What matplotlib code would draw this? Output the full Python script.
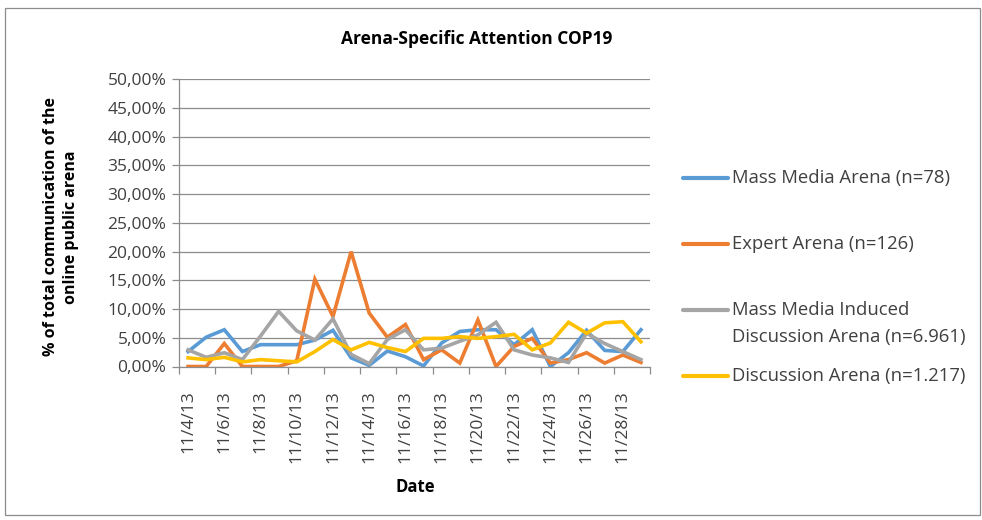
import numpy as np
import matplotlib.pyplot as plt
from matplotlib.lines import Line2D
from matplotlib.patches import Rectangle

plt.rcParams['font.family'] = ['Open Sans', 'DejaVu Sans']

# Daily share of each arena (%), 4-29 Nov 2013
dates = ['11/4/13', '11/5/13', '11/6/13', '11/7/13', '11/8/13', '11/9/13',
         '11/10/13', '11/11/13', '11/12/13', '11/13/13', '11/14/13', '11/15/13',
         '11/16/13', '11/17/13', '11/18/13', '11/19/13', '11/20/13', '11/21/13',
         '11/22/13', '11/23/13', '11/24/13', '11/25/13', '11/26/13', '11/27/13',
         '11/28/13', '11/29/13']
mass_media = [2.6, 5.1, 6.4, 2.6, 3.8, 3.8, 3.8, 4.6, 6.3, 1.5, 0.2, 2.7, 1.7,
              0.1, 4.1, 6.1, 6.4, 6.4, 3.8, 6.4, 0.0, 2.4, 6.3, 2.8, 2.6, 6.4]
expert = [0.0, 0.0, 4.0, 0.0, 0.0, 0.0, 1.0, 15.2, 8.7, 20.0, 9.3, 5.1, 7.3,
          1.2, 2.9, 0.6, 8.1, 0.0, 3.5, 4.9, 0.6, 1.2, 2.4, 0.6, 2.0, 0.7]
induced = [2.9, 1.6, 2.4, 1.2, 5.3, 9.6, 6.2, 4.6, 8.3, 2.1, 0.5, 4.7, 6.4,
           2.9, 3.2, 4.4, 5.5, 7.7, 2.9, 2.0, 1.5, 0.7, 5.8, 4.0, 2.6, 1.2]
discussion = [1.5, 1.2, 1.6, 0.8, 1.2, 1.0, 0.8, 2.6, 4.7, 2.9, 4.2, 3.3, 2.6,
              4.9, 4.9, 5.2, 4.9, 5.2, 5.6, 2.9, 4.1, 7.7, 5.8, 7.6, 7.8, 4.3]

series = [
    ('Mass Media Arena (n=78)', mass_media, '#5B9BD5'),
    ('Expert Arena (n=126)', expert, '#ED7D31'),
    ('Mass Media Induced\nDiscussion Arena (n=6.961)', induced, '#A5A5A5'),
    ('Discussion Arena (n=1.217)', discussion, '#FFC000'),
]

W, H = 982, 520
fig = plt.figure(figsize=(W / 100, H / 100), dpi=100)
fig.patch.set_facecolor('white')
ax = fig.add_axes([179 / W, 1 - 366.5 / H, 471 / W, 287.2 / H])

x = np.arange(len(dates))
for label, vals, color in series:
    ax.plot(x, vals, color=color, lw=2.6, solid_joinstyle='miter')

ax.set_xlim(-0.5, len(dates) - 0.5)
ax.set_ylim(0, 50)

grid_col = '#8C8C8C'
text_col = '#404040'
ax.set_yticks(np.arange(0, 51, 5))
ax.set_yticklabels(['%d,00%%' % v for v in range(0, 51, 5)], fontsize=12.5, color=text_col)
ax.yaxis.grid(True, color=grid_col, lw=0.9)
ax.set_axisbelow(True)
ax.tick_params(axis='y', length=5, width=0.9, color=grid_col, pad=4)

# tick marks sit between categories, labels on every second day
ax.set_xticks(np.arange(-0.5, len(dates), 2))
ax.set_xticklabels([])
ax.set_xticks(x[::2], minor=True)
ax.set_xticklabels(dates[::2], minor=True, rotation=90, fontsize=12.5, color=text_col)
ax.tick_params(axis='x', which='major', length=5, width=0.9, color=grid_col)
ax.tick_params(axis='x', which='minor', length=0, pad=17)

for side in ['top', 'right']:
    ax.spines[side].set_visible(False)
for side in ['left', 'bottom']:
    ax.spines[side].set_color(grid_col)
    ax.spines[side].set_linewidth(0.9)

fig.text(477 / W, 1 - 39 / H, 'Arena-Specific Attention COP19', ha='center', va='center',
         fontsize=12.5, fontweight='bold')
fig.text(415 / W, 1 - 487 / H, 'Date', ha='center', va='center', fontsize=12,
         fontweight='bold')
fig.text(61 / W, 1 - 227 / H, '% of total communication of the\nonline public arena',
         ha='center', va='center', rotation=90, fontsize=11.5, fontweight='bold',
         linespacing=1.4)

# legend drawn by hand: samples evenly spaced, wrapped label hangs below its line
for k, (label, vals, color) in enumerate(series):
    ly = 178 + 66 * k
    fig.add_artist(Line2D([683 / W, 728 / W], [1 - ly / H, 1 - ly / H], color=color, lw=3,
                          solid_capstyle='round'))
    for j, line in enumerate(label.split('\n')):
        fig.text(732 / W, 1 - (ly + 27 * j) / H, line, ha='left', va='center',
                 fontsize=13.3, color=text_col)

fig.add_artist(Rectangle((5 / W, 5 / H), 975 / W, 507 / H, transform=fig.transFigure,
                         fill=False, edgecolor=grid_col, lw=0.9))

fig.savefig('out.png', dpi=100, facecolor='white')
